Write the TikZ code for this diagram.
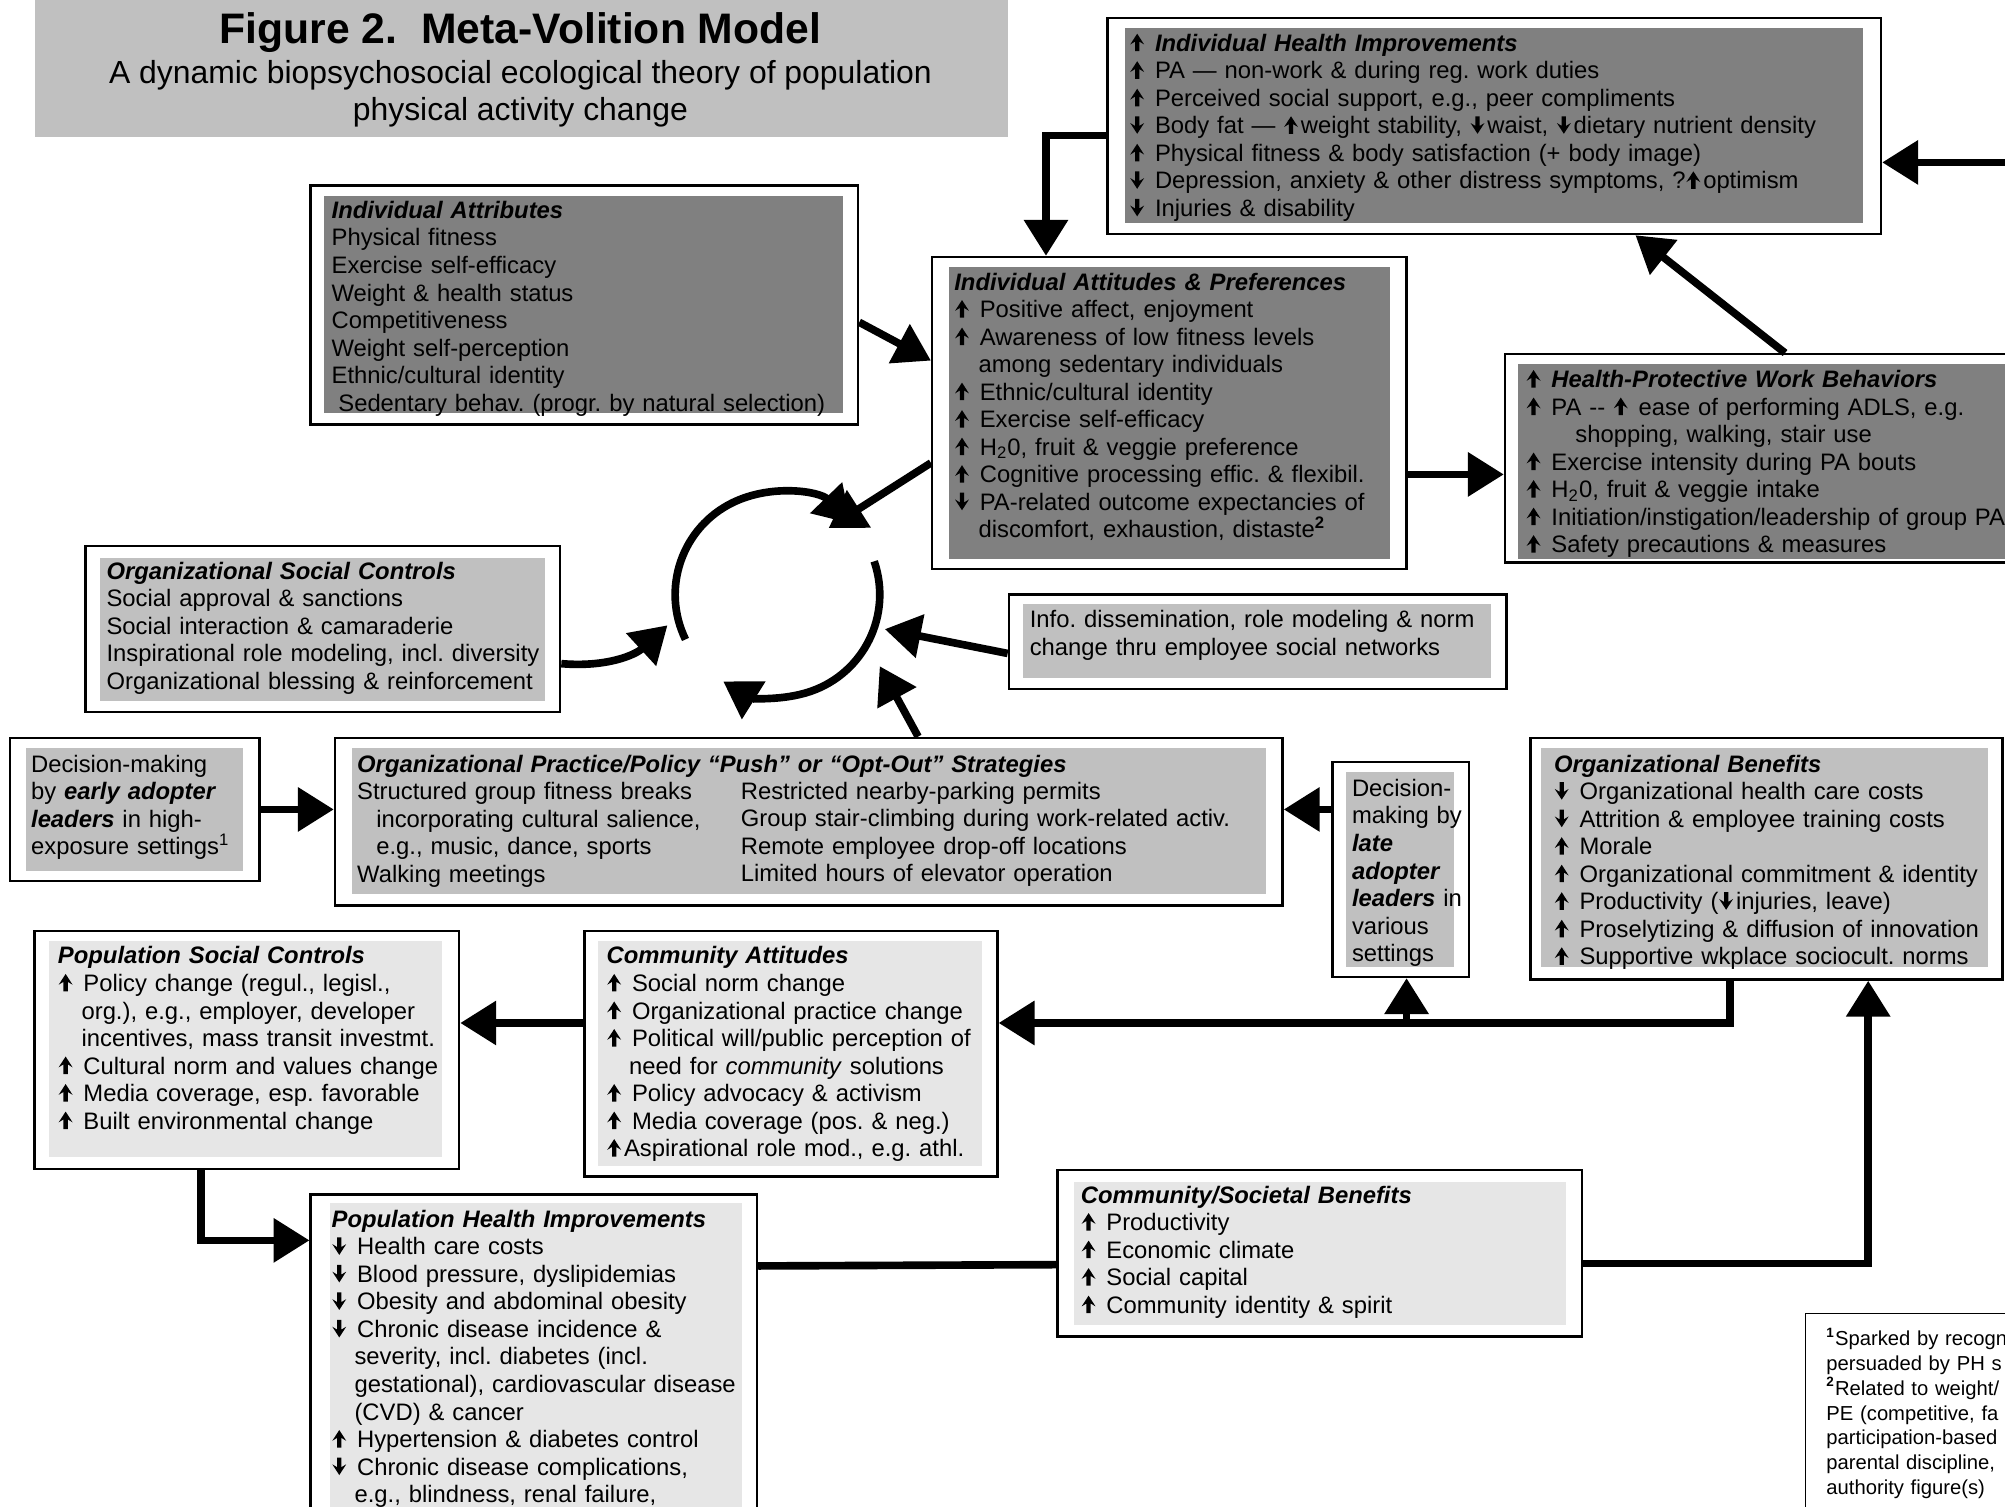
\documentclass[tikz,border=0pt]{standalone}
\usepackage{fontspec}
\setmainfont{Liberation Sans}
\usetikzlibrary{arrows.meta,fit,calc}
\frenchspacing

\definecolor{darkgrey}{HTML}{808080}
\definecolor{midgrey}{HTML}{C0C0C0}
\definecolor{palegrey}{HTML}{E6E6E6}

% bold list arrows
\newcommand{\uparw}{\hspace{0.3pt}\tikz[baseline=0pt]\fill (-0.95pt,0pt) -- (-0.95pt,4.3pt) -- (-3.1pt,3.0pt) -- (0pt,7.8pt) -- (3.1pt,3.0pt) -- (0.95pt,4.3pt) -- (0.95pt,0pt) -- cycle;\hspace{1.3pt}}
\newcommand{\dnarw}{\hspace{0.3pt}\tikz[baseline=0pt]\fill (-0.95pt,7.8pt) -- (-0.95pt,3.5pt) -- (-3.1pt,4.8pt) -- (0pt,0pt) -- (3.1pt,4.8pt) -- (0.95pt,3.5pt) -- (0.95pt,7.8pt) -- cycle;\hspace{1.3pt}}

\tikzset{
  frame/.style={draw, line width=1.1pt, fill=white, inner sep=0pt},
  darkpanel/.style={fill=darkgrey, inner sep=0pt},
  midpanel/.style={fill=midgrey, inner sep=0pt},
  palepanel/.style={fill=palegrey, inner sep=0pt},
  txt/.style={anchor=north west, inner sep=0pt, text width=12cm, align=left,
    font=\fontsize{10.6}{12.25}\selectfont},
  flowarrow/.style={line width=3.4pt, -{Triangle[length=16pt,width=19pt]}},
  flowline/.style={line width=3.4pt},
}

\begin{document}
\begin{tikzpicture}[x=0.02cm, y=-0.02cm]
\useasboundingbox (0,0) rectangle (1568,1178);
\clip (0,0) rectangle (1568,1178);

% title
\node[midpanel, fit={(27,0) (788,107)}] (titleBox) {};
\node[anchor=base, inner sep=0pt, font=\fontsize{19}{22}\selectfont\bfseries] (titleTxt) at (407,34) {Figure 2.\ \ Meta-Volition Model};
\node[anchor=north, inner sep=0pt, align=center, font=\fontsize{14.2}{16.4}\selectfont] (subTxt) at (407,47) {A dynamic biopsychosocial ecological theory of population\\physical activity change};

% individual health improvements
\node[frame, fit={(866,14) (1471,183)}] (ihiBox) {};
\node[darkpanel, fit={(880,22) (1457,174)}] (ihiFill) {};
\node[txt] (ihiTxt) at (883,26) {\uparw\ \textbf{\textit{Individual Health Improvements}}\\
\uparw\ PA — non-work \& during reg. work duties\\
\uparw\ Perceived social support, e.g., peer compliments\\
\dnarw\ Body fat — \uparw weight stability, \dnarw waist, \dnarw dietary nutrient density\\
\uparw\ Physical fitness \& body satisfaction (+ body image)\\
\dnarw\ Depression, anxiety \& other distress symptoms, ?\uparw optimism\\
\dnarw\ Injuries \& disability};

% individual attributes
\node[frame, fit={(243,145) (671,332)}] (iaBox) {};
\node[darkpanel, fit={(253,153) (659,323)}] (iaFill) {};
\node[txt] (iaTxt) at (259,157) {\textbf{\textit{Individual Attributes}}\\
Physical fitness\\
Exercise self-efficacy\\
Weight \& health status\\
Competitiveness\\
Weight self-perception\\
Ethnic/cultural identity\\
\hspace*{3pt}Sedentary behav. (progr. by natural selection)};

% individual attitudes
\node[frame, fit={(729,201) (1100,445)}] (iapBox) {};
\node[darkpanel, fit={(742,209) (1087,437)}] (iapFill) {};
\node[txt] (iapTxt) at (746,213) {\textbf{\textit{Individual Attitudes \& Preferences}}\\
\uparw\ Positive affect, enjoyment\\
\uparw\ Awareness of low fitness levels\\
\hspace*{10.8pt}among sedentary individuals\\
\uparw\ Ethnic/cultural identity\\
\uparw\ Exercise self-efficacy\\
\uparw\ H\textsubscript{2}0, fruit \& veggie preference\\
\uparw\ Cognitive processing effic. \& flexibil.\\
\dnarw\ PA-related outcome expectancies of\\
\hspace*{10.8pt}discomfort, exhaustion, distaste\textsuperscript{\textbf{2}}};

% work behaviors
\node[frame, fit={(1177,277) (1600,440)}] (hpBox) {};
\node[darkpanel, fit={(1187,285) (1600,437)}] (hpFill) {};
\node[txt] (hpTxt) at (1193,289) {\uparw\ \textbf{\textit{Health-Protective Work Behaviors}}\\
\uparw\ PA -{}- \uparw\ ease of performing ADLS, e.g.\\
\hspace*{22pt}shopping, walking, stair use\\
\uparw\ Exercise intensity during PA bouts\\
\uparw\ H\textsubscript{2}0, fruit \& veggie intake\\
\uparw\ Initiation/instigation/leadership of group PA\\
\uparw\ Safety precautions \& measures};

% organizational social controls
\node[frame, fit={(67,427) (438,557)}] (oscBox) {};
\node[midpanel, fit={(78,436) (426,548)}] (oscFill) {};
\node[txt] (oscTxt) at (83,439) {\textbf{\textit{Organizational Social Controls}}\\
Social approval \& sanctions\\
Social interaction \& camaraderie\\
Inspirational role modeling, incl. diversity\\
Organizational blessing \& reinforcement};

% social networks
\node[frame, fit={(789,465) (1178,539)}] (infoBox) {};
\node[midpanel, fit={(800,472) (1166,530)}] (infoFill) {};
\node[txt] (infoTxt) at (805,477) {Info. dissemination, role modeling \& norm\\
change thru employee social networks};

% early adopters
\node[frame, fit={(8,577) (203,689)}] (earlyBox) {};
\node[midpanel, fit={(20,585) (190,681)}] (earlyFill) {};
\node[txt] (earlyTxt) at (24,590) {Decision-making\\
by \textbf{\textit{early adopter}}\\
\textbf{\textit{leaders}} in high-\\
exposure settings\textsuperscript{1}};

% practice / policy strategies
\node[frame, fit={(262,577) (1003,708)}] (oppBox) {};
\node[midpanel, fit={(275,585) (990,699)}] (oppFill) {};
\node[txt] (oppTxt) at (279,590) {\textbf{\textit{Organizational Practice/Policy “Push” or “Opt-Out” Strategies}}\\
Structured group fitness breaks\\
\hspace*{8.5pt}incorporating cultural salience,\\
\hspace*{8.5pt}e.g., music, dance, sports\\
Walking meetings};
\node[txt] (oppTxtB) at (579,611) {Restricted nearby-parking permits\\
Group stair-climbing during work-related activ.\\
Remote employee drop-off locations\\
Limited hours of elevator operation};

% late adopters
\node[frame, fit={(1042,596) (1149,764)}] (lateBox) {};
\node[midpanel, fit={(1053,604) (1137,756)}] (lateFill) {};
\node[txt] (lateTxt) at (1057,609) {Decision-\\
making by\\
\textbf{\textit{late}}\\
\textbf{\textit{adopter}}\\
\textbf{\textit{leaders}} in\\
various\\
settings};

% organizational benefits
\node[frame, fit={(1197,577) (1566,766)}] (obBox) {};
\node[midpanel, fit={(1205,585) (1555,756)}] (obFill) {};
\node[txt] (obTxt) at (1215,590) {\textbf{\textit{Organizational Benefits}}\\
\dnarw\ Organizational health care costs\\
\dnarw\ Attrition \& employee training costs\\
\uparw\ Morale\\
\uparw\ Organizational commitment \& identity\\
\uparw\ Productivity (\dnarw injuries, leave)\\
\uparw\ Proselytizing \& diffusion of innovation\\
\uparw\ Supportive wkplace sociocult. norms};

% population social controls
\node[frame, fit={(27,728) (359,914)}] (pscBox) {};
\node[palepanel, fit={(38,736) (346,905)}] (pscFill) {};
\node[txt] (pscTxt) at (45,740) {\textbf{\textit{Population Social Controls}}\\
\uparw\ Policy change (regul., legisl.,\\
\hspace*{10.5pt}org.), e.g., employer, developer\\
\hspace*{10.5pt}incentives, mass transit investmt.\\
\uparw\ Cultural norm and values change\\
\uparw\ Media coverage, esp. favorable\\
\uparw\ Built environmental change};

% community attitudes
\node[frame, fit={(457,728) (780,920)}] (caBox) {};
\node[palepanel, fit={(468,736) (768,912)}] (caFill) {};
\node[txt] (caTxt) at (474,740) {\textbf{\textit{Community Attitudes}}\\
\uparw\ Social norm change\\
\uparw\ Organizational practice change\\
\uparw\ Political will/public perception of\\
\hspace*{10pt}need for \textit{community} solutions\\
\uparw\ Policy advocacy \& activism\\
\uparw\ Media coverage (pos. \& neg.)\\
\uparw Aspirational role mod., e.g. athl.};

% population health improvements
\node[frame, fit={(243,934) (592,1200)}] (phiBox) {};
\node[palepanel, fit={(258,941) (580,1200)}] (phiFill) {};
\node[txt] (phiTxt) at (259,946) {\textbf{\textit{Population Health Improvements}}\\
\dnarw\ Health care costs\\
\dnarw\ Blood pressure, dyslipidemias\\
\dnarw\ Obesity and abdominal obesity\\
\dnarw\ Chronic disease incidence \&\\
\hspace*{10.2pt}severity, incl. diabetes (incl.\\
\hspace*{10.2pt}gestational), cardiovascular disease\\
\hspace*{10.2pt}(CVD) \& cancer\\
\uparw\ Hypertension \& diabetes control\\
\dnarw\ Chronic disease complications,\\
\hspace*{10.2pt}e.g., blindness, renal failure,};

% community benefits
\node[frame, fit={(827,915) (1237,1045)}] (csbBox) {};
\node[palepanel, fit={(840,924) (1225,1036)}] (csbFill) {};
\node[txt] (csbTxt) at (845,927) {\textbf{\textit{Community/Societal Benefits}}\\
\uparw\ Productivity\\
\uparw\ Economic climate\\
\uparw\ Social capital\\
\uparw\ Community identity \& spirit};

% footnotes
\node[draw, line width=0.6pt, inner sep=0pt, fit={(1412,1027) (1600,1200)}] (footBox) {};
\node[txt, font=\fontsize{9}{11.05}\selectfont] (footTxt) at (1428,1038) {\textsuperscript{\textbf{1}}Sparked by recogn\\
persuaded by PH s\\
\textsuperscript{\textbf{2}}Related to weight/\\
PE (competitive, fa\\
participation-based\\
parental discipline,\\
authority figure(s)};

% the cycle
\coordinate (cyc) at (608,465);
\coordinate (cycNE) at (648,413);
\coordinate (cycE) at (692,492);
\coordinate (cycSE) at (688,521);
\coordinate (cycW) at (522,489);
\draw[flowarrow] ($(cyc)+(154:80)$) arc[start angle=154, end angle=316, radius=80];
\draw[flowarrow] ($(cyc)+(-19:80)$) arc[start angle=-19, end angle=122, radius=80];

% connectors
\draw[flowarrow] (ihiBox.west |- 0,106) -| (818,0 |- iapBox.north);
\coordinate (rimIn) at (1570,127);
\draw[flowarrow] (rimIn) -- (ihiBox.east |- rimIn);
\draw[flowarrow] (1396,0 |- hpBox.north) -- (1279,0 |- ihiBox.south);
\draw[flowarrow] (iaBox.east |- 0,252) -- (iapBox.west |- 0,282);
\draw[flowarrow] (iapBox.east |- 0,371) -- (hpBox.west |- 0,371);
\draw[flowarrow] (iapBox.west |- 0,362) -- (cycNE);
\draw[flowarrow] (oscBox.east |- 0,519) .. controls (475,522) and (497,512) .. (cycW);
\draw[flowarrow] (infoBox.west |- 0,511) -- (cycE);
\draw[flowarrow] (718,0 |- oppBox.north) -- (cycSE);
\draw[flowarrow] (earlyBox.east) -- (oppBox.west |- earlyBox.east);
\draw[flowarrow] (lateBox.west |- 0,633) -- (oppBox.east |- 0,633);
\draw[flowarrow] (1353,0 |- obBox.south) |- (caBox.east |- 0,800);
\coordinate (fork) at (1100,800);
\draw[flowarrow] (fork) -- (fork |- lateBox.south);
\draw[flowarrow] (caBox.west |- 0,800) -- (pscBox.east |- 0,800);
\draw[flowarrow] (157,0 |- pscBox.south) |- (phiBox.west |- 0,970);
\draw[flowline] (phiBox.east |- 0,990) -- (csbBox.west |- 0,989);
\draw[flowarrow] (csbBox.east |- 0,988) -| (1461,0 |- obBox.south);

\end{tikzpicture}
\end{document}
